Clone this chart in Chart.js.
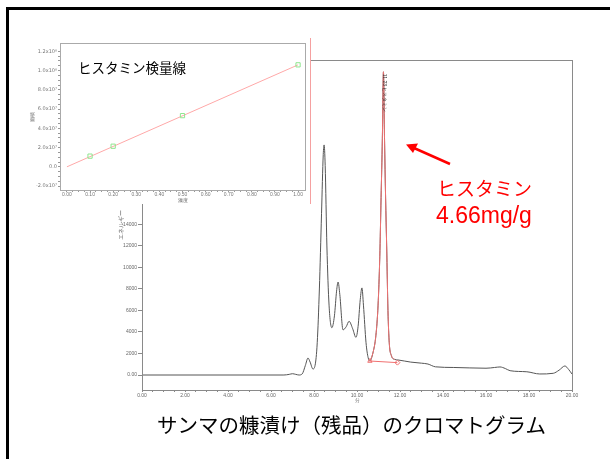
<!DOCTYPE html>
<html>
<head>
<meta charset="utf-8">
<script src="https://cdn.jsdelivr.net/npm/chart.js@4.4.1/dist/chart.umd.min.js"></script>
<style>
html, body { margin: 0; padding: 0; background: #fff; }
#page { position: relative; width: 610px; height: 459px; overflow: hidden; font-family: "Noto Sans CJK JP", sans-serif; }
#frame { position: absolute; left: 6px; top: 7px; width: 700px; height: 600px; border-left: 3px solid #000; border-top: 3px solid #000; }
#mainChart { position: absolute; left: 0; top: 0; }
#insetBox { position: absolute; left: 10px; top: 38px; width: 300px; height: 166px; background: #fff; border-right: 1px solid #f5a0a0; }
#insetTitle { position: absolute; left: 78px; top: 61px; font-size: 13.5px; line-height: 1; color: #000; white-space: nowrap; }
#annName { position: absolute; left: 437px; top: 178px; font-size: 19px; line-height: 1; color: #f00; white-space: nowrap; }
#annValue { position: absolute; left: 436px; top: 204px; font-family: "Liberation Sans", Arial, sans-serif; font-size: 23px; line-height: 1; color: #f00; white-space: nowrap; }
#caption { position: absolute; left: 157px; top: 414px; font-size: 20.5px; line-height: 1; color: #000; white-space: nowrap; }
#arrow { position: absolute; left: 0; top: 0; }
</style>
</head>
<body>
<div id="page">
    <div id="frame"></div>
    <canvas id="mainChart" width="610" height="459"></canvas>
    <div id="insetBox"><canvas id="insetChart" width="300" height="166"></canvas></div>
    <div id="insetTitle">ヒスタミン検量線</div>
    <svg id="arrow" width="610" height="459">
        <line x1="450" y1="164" x2="414" y2="148" stroke="#f00" stroke-width="2.5"/>
        <polygon points="406,144.5 418,143.5 413,153" fill="#f00"/>
    </svg>
    <div id="annName">ヒスタミン</div>
    <div id="annValue">4.66mg/g</div>
    <div id="caption">サンマの糠漬け（残品）のクロマトグラム</div>
</div>

<script>
// クロマトグラム（ヒスタミンピーク前）
const preTime  = [0, 6.6, 6.85, 7.0, 7.15, 7.3, 7.45, 7.6, 7.72, 7.82, 7.95, 8.05, 8.15, 8.25, 8.35, 8.43, 8.47, 8.52, 8.6, 8.7, 8.83, 8.95, 9.05, 9.12, 9.2, 9.35, 9.5, 9.63, 9.8, 9.95, 10.05, 10.15, 10.23, 10.3, 10.42, 10.52];
const preValue = [0, 0, 60, 120, 60, 0, 100, 900, 1580, 1200, 560, 900, 3000, 8000, 15000, 20500, 21400, 19500, 12000, 6500, 4400, 5500, 7800, 8650, 7500, 4200, 4500, 5000, 4300, 3500, 4500, 7000, 8100, 6500, 3000, 1600];

// ヒスタミンピーク（赤）
const peakTime  = [10.6, 10.74, 10.88, 10.98, 11.06, 11.12, 11.18, 11.23, 11.28, 11.33, 11.38, 11.44, 11.5, 11.6, 11.75];
const peakValue = [1300, 2050, 3700, 6500, 11000, 16500, 22000, 28200, 22000, 16500, 12000, 6000, 3000, 1800, 1450];
const peakLabel = '11.23 ヒスタミン';

// ベースライン（開始・終了マーカー）
const baseTime  = [10.6, 11.88];
const baseValue = [1300, 1150];

// ピーク後
const postTime  = [11.9, 12.5, 13.0, 13.3, 13.65, 14.5, 16.0, 16.4, 16.65, 16.9, 17.12, 17.9, 18.5, 19.13, 19.4, 19.67, 19.85, 20.0];
const postValue = [1400, 1200, 1100, 1020, 760, 700, 630, 700, 750, 600, 400, 300, 95, 160, 450, 840, 500, 90];

// 主軸の目盛り
const mainXMajor  = [0, 2, 4, 6, 8, 10, 12, 14, 16, 18, 20];
const mainXLabels = ['0.00', '2.00', '4.00', '6.00', '8.00', '10.00', '12.00', '14.00', '16.00', '18.00', '20.00'];
const mainYTicks  = [0, 2000, 4000, 6000, 8000, 10000, 12000, 14000, 16000, 18000, 20000, 22000, 24000, 26000, 28000];
const mainYLabels = ['0.00', '2000', '4000', '6000', '8000', '10000', '12000', '14000', '16000', '18000', '20000', '22000', '24000', '26000', '28000'];

// 検量線
const calConc = [0.10, 0.20, 0.50, 1.00];
const calArea = [1.11e7, 2.14e7, 5.32e7, 1.06e8];
const fitConc = [0, 1.00];
const fitArea = [0, 1.06e8];
const insetXMajor  = [0, 0.1, 0.2, 0.3, 0.4, 0.5, 0.6, 0.7, 0.8, 0.9, 1.0];
const insetXLabels = ['0.00', '0.10', '0.20', '0.30', '0.40', '0.50', '0.60', '0.70', '0.80', '0.90', '1.00'];
const insetYMajor  = [-2e7, 0, 2e7, 4e7, 6e7, 8e7, 1e8, 1.2e8];
const insetYLabels = ['-2.0x10⁷', '0.0', '2.0x10⁷', '4.0x10⁷', '6.0x10⁷', '8.0x10⁷', '1.0x10⁸', '1.2x10⁸'];

const tickFont = { family: 'Liberation Sans', size: 5 };
const axisGray = '#8a8a8a';

function pairs(xs, ys) {
    return xs.map((x, i) => ({ x: x, y: ys[i] }));
}

function labelFor(majors, labels, value) {
    const i = majors.findIndex(m => Math.abs(m - value) < 1e-9 * Math.max(1, Math.abs(m)));
    return i >= 0 ? labels[i] : '';
}

function stepTicks(min, max, step) {
    const out = [];
    for (let v = min; v <= max + step / 1000; v += step) out.push({ value: Math.round(v / step) * step });
    return out;
}

// 枠線
const boxPlugin = {
    id: 'box',
    afterDraw(chart, args, opts) {
        const { ctx, chartArea: a } = chart;
        ctx.save();
        ctx.strokeStyle = opts.color;
        ctx.lineWidth = 1;
        ctx.strokeRect(Math.round(a.left) + 0.5, Math.round(a.top) + 0.5, Math.round(a.right - a.left), Math.round(a.bottom - a.top));
        ctx.restore();
    }
};

// ピークラベル（縦書き）
const peakLabelPlugin = {
    id: 'peakLabel',
    afterDatasetsDraw(chart) {
        const { ctx, scales } = chart;
        const i = peakValue.indexOf(Math.max(...peakValue));
        const px = scales.x.getPixelForValue(peakTime[i]);
        const py = scales.y.getPixelForValue(peakValue[i]);
        ctx.save();
        ctx.translate(px + 1, py + 2);
        ctx.rotate(Math.PI / 2);
        ctx.fillStyle = '#333';
        ctx.font = '5px "Liberation Sans"';
        ctx.textBaseline = 'middle';
        ctx.fillText(peakLabel, 0, 0);
        ctx.restore();
    }
};

const mainData = pairs(preTime, preValue).concat(pairs(peakTime, peakValue), pairs(postTime, postValue));

new Chart(document.getElementById('mainChart'), {
    type: 'line',
    data: {
        datasets: [{
            data: pairs(peakTime, peakValue),
            borderColor: '#f07070',
            borderWidth: 1,
            pointRadius: 0,
            cubicInterpolationMode: 'monotone',
            order: 0
        }, {
            data: pairs(baseTime, baseValue),
            borderColor: '#f07070',
            borderWidth: 1,
            pointStyle: ['triangle', 'rectRot'],
            pointRadius: 2.5,
            pointBorderColor: '#f07070',
            pointBackgroundColor: 'rgba(255,255,255,0)',
            pointBorderWidth: 1,
            order: 1
        }, {
            data: mainData,
            borderColor: '#555',
            borderWidth: 1,
            pointRadius: 0,
            cubicInterpolationMode: 'monotone',
            order: 2
        }]
    },
    options: {
        responsive: false,
        animation: false,
        events: [],
        layout: { padding: { left: 118, right: 38, top: 60, bottom: 55 } },
        plugins: { legend: { display: false }, tooltip: { enabled: false }, box: { color: axisGray } },
        scales: {
            x: {
                type: 'linear',
                min: 0,
                max: 20,
                afterBuildTicks: s => { s.ticks = stepTicks(0, 20, 0.5); },
                afterFit: s => { s.height = 14; },
                ticks: { font: tickFont, color: '#666', padding: 1, maxRotation: 0, autoSkip: false,
                    callback: v => labelFor(mainXMajor, mainXLabels, v) },
                grid: { drawOnChartArea: false, tickLength: 2, color: axisGray },
                border: { color: axisGray },
                title: { display: true, text: '分', font: { size: 5 }, color: '#666', padding: 0 }
            },
            y: {
                type: 'linear',
                min: -1395,
                max: 29300,
                afterBuildTicks: s => { s.ticks = mainYTicks.map(v => ({ value: v })); },
                afterFit: s => { s.width = 24; },
                ticks: { font: tickFont, color: '#666', padding: 1, autoSkip: false,
                    callback: v => labelFor(mainYTicks, mainYLabels, v) },
                grid: { drawOnChartArea: false, tickLength: 4, color: axisGray },
                border: { color: axisGray },
                title: { display: true, text: 'エネルギー', font: { size: 6 }, color: '#666', padding: 0 }
            }
        }
    },
    plugins: [boxPlugin, peakLabelPlugin]
});

new Chart(document.getElementById('insetChart'), {
    type: 'line',
    data: {
        datasets: [{
            data: pairs(calConc, calArea),
            showLine: false,
            pointStyle: 'rect',
            pointRadius: 3,
            pointBorderColor: '#8fe68f',
            pointBackgroundColor: 'rgba(255,255,255,0)',
            pointBorderWidth: 1,
            order: 0
        }, {
            data: pairs(fitConc, fitArea),
            borderColor: '#ffa8a8',
            borderWidth: 1,
            pointRadius: 0,
            order: 1
        }]
    },
    options: {
        responsive: false,
        animation: false,
        events: [],
        layout: { padding: { left: 20, right: 2, top: 4, bottom: 0 } },
        plugins: { legend: { display: false }, tooltip: { enabled: false }, box: { color: '#aaa' } },
        scales: {
            x: {
                type: 'linear',
                min: -0.03,
                max: 1.03,
                afterBuildTicks: s => { s.ticks = stepTicks(0, 1, 0.025); },
                afterFit: s => { s.height = 14; },
                ticks: { font: tickFont, color: '#777', padding: 0, maxRotation: 0, autoSkip: false,
                    callback: v => labelFor(insetXMajor, insetXLabels, v) },
                grid: { drawOnChartArea: false, tickLength: 2, color: '#999' },
                border: { color: '#aaa' },
                title: { display: true, text: '濃度', font: { size: 5 }, color: '#666', padding: 0 }
            },
            y: {
                type: 'linear',
                min: -2.41e7,
                max: 1.287e8,
                afterBuildTicks: s => { s.ticks = stepTicks(-2e7, 1.2e8, 5e6); },
                afterFit: s => { s.width = 30; },
                ticks: { font: { family: 'DejaVu Sans', size: 5 }, color: '#777', padding: 1, autoSkip: false,
                    callback: v => labelFor(insetYMajor, insetYLabels, v) },
                grid: { drawOnChartArea: false, tickLength: 2, color: '#999' },
                border: { color: '#aaa' },
                title: { display: true, text: '面積', font: { size: 5 }, color: '#666', padding: 0 }
            }
        }
    },
    plugins: [boxPlugin]
});
</script>
</body>
</html>
